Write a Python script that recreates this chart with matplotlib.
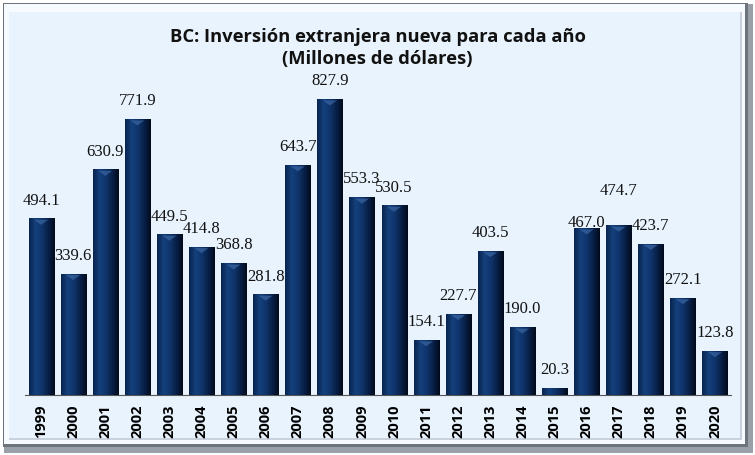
import numpy as np
import matplotlib.pyplot as plt
from matplotlib.patches import Rectangle
from matplotlib.colors import LinearSegmentedColormap

# datos
anios = [str(a) for a in range(1999, 2021)]
inversion = [494.1, 339.6, 630.9, 771.9, 449.5, 414.8, 368.8, 281.8, 643.7, 827.9,
             553.3, 530.5, 154.1, 227.7, 403.5, 190.0, 20.3, 467.0, 474.7, 423.7,
             272.1, 123.8]
titulo = 'BC: Inversión extranjera nueva para cada año\n(Millones de dólares)'

# etiquetas movidas a mano en el original (en puntos)
ajuste = {'2016': -9, '2017': 12}

fig = plt.figure(figsize=(7.55, 4.55), dpi=100)
fig.patch.set_facecolor('white')

# panel de fondo con sombra y bisel
W, H = 755.0, 455.0
def fr(x0, y0, x1, y1, **kw):
    # rectangulo en pixeles (origen arriba-izquierda)
    r = Rectangle((x0 / W, 1 - y1 / H), (x1 - x0) / W, (y1 - y0) / H,
                  transform=fig.transFigure, linewidth=0, zorder=-5, **kw)
    fig.patches.append(r)

fr(4, 4, 753, 453, color='#9aa0a8')
fr(3, 3, 748, 447, color='#6e747c')
fr(4, 4, 745, 444, color='#f7fbff')
fr(9, 12, 742, 440, color='#c9d2dc')
fr(9, 12, 740, 438, color='#e8f3fd')

ax = fig.add_axes([25 / W, 1 - 395 / H, (731 - 25) / W, (395 - 70) / H])
ax.set_zorder(2)
ax.set_facecolor('none')

x = np.arange(len(anios))
bars = ax.bar(x, inversion, width=0.78, color='#0c2f66', zorder=2)

# degradado horizontal en cada barra
cmap = LinearSegmentedColormap.from_list('barra', ['#09244f', '#15407c', '#10346b', '#082048', '#010a1a'])
grad = np.linspace(0, 1, 64).reshape(1, -1)
for b in bars:
    bx, bw, bh = b.get_x(), b.get_width(), b.get_height()
    im = ax.imshow(grad, cmap=cmap, aspect='auto', extent=(bx, bx + bw, 0, bh),
                   zorder=3, interpolation='bilinear')
    im.set_clip_path(b)
    # brillo superior
    if bh > 30:
        ax.fill([bx + bw * 0.22, bx + bw * 0.78, bx + bw * 0.5],
                [bh - 4, bh - 4, bh - 18], color='#3a66a3', alpha=0.7, zorder=4, lw=0)

for xi, a, v in zip(x, anios, inversion):
    ax.annotate(f'{v:.1f}', (xi, v), xytext=(0, 7 + ajuste.get(a, 0)),
                textcoords='offset points', ha='center', va='bottom', fontsize=12,
                family='Liberation Serif', color='#111111', zorder=5)

ax.set_xlim(-0.5, len(anios) - 0.5)
ax.set_ylim(0, 909)
ax.set_xticks(x)
ax.set_xticklabels(anios, rotation=90, fontsize=10.5, fontweight='bold', family='Open Sans')
ax.tick_params(axis='x', length=0, pad=7)
ax.set_yticks([])
for s in ['top', 'right', 'left']:
    ax.spines[s].set_visible(False)
ax.spines['bottom'].set_color('#555555')

fig.text(0.5, 1 - 48 / H, titulo, ha='center', va='center', fontsize=13.2,
         fontweight='bold', family='Open Sans', linespacing=1.35, color='#111111')

fig.savefig('out.png', dpi=100)
